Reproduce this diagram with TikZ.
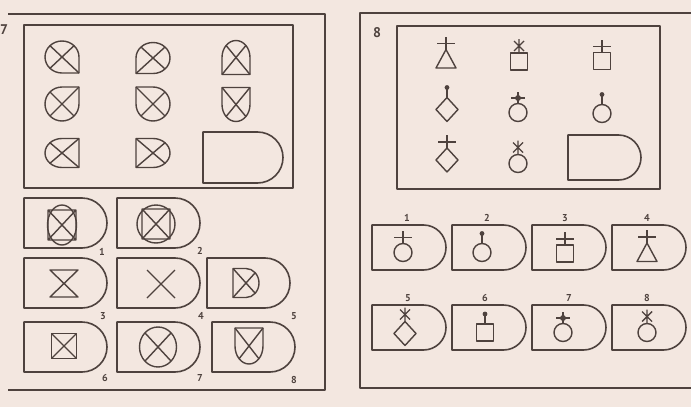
\documentclass[tikz,border=0pt]{standalone}
\usepackage{fontspec}
\setsansfont{PT Sans}
\definecolor{paper}{RGB}{243,231,224}
\definecolor{ink}{RGB}{78,66,62}
\tikzset{
  frame/.style={draw=ink, line width=1.6pt, line join=round},
  glyph/.style={draw=ink, line width=1.4pt, line join=round},
  num/.style={text=ink, font=\sffamily\bfseries\fontsize{10}{10}\selectfont, inner sep=0pt},
}
% quarter symbol: x, y, rx, ry, TR, TL, BL, BR (1 = round quarter, 0 = square corner)
\newcommand{\quartersym}[8]{%
  \ifnum#5=1 \def\qsA{arc[start angle=0,end angle=90,radius=1]}\def\qcA{0.7071}\else\def\qsA{-- (1,1) -- (0,1)}\def\qcA{1}\fi
  \ifnum#6=1 \def\qsB{arc[start angle=90,end angle=180,radius=1]}\def\qcB{0.7071}\else\def\qsB{-- (-1,1) -- (-1,0)}\def\qcB{1}\fi
  \ifnum#7=1 \def\qsC{arc[start angle=180,end angle=270,radius=1]}\def\qcC{0.7071}\else\def\qsC{-- (-1,-1) -- (0,-1)}\def\qcC{1}\fi
  \ifnum#8=1 \def\qsD{arc[start angle=270,end angle=360,radius=1]}\def\qcD{0.7071}\else\def\qsD{-- (1,-1) -- (1,0)}\def\qcD{1}\fi
  \begin{scope}[shift={(#1,-#2)}, xscale=#3, yscale=#4]
    \draw[glyph] (1,0) \qsA \qsB \qsC \qsD -- cycle;
    \draw[glyph] (\qcA,\qcA) -- (-\qcC,-\qcC);
    \draw[glyph] (-\qcB,\qcB) -- (\qcD,-\qcD);
  \end{scope}}
% D-shaped card: left x, top y, width, height
\newcommand{\card}[4]{%
  \pgfmathsetmacro{\cardr}{#4/2}
  \draw[frame] (#1+#3-\cardr,-#2) -- (#1,-#2) -- (#1,-#2-#4) -- (#1+#3-\cardr,-#2-#4)
    arc[start angle=-90,end angle=90,radius=\cardr] -- cycle;}
% bodies, drawn round (0,0)
\newcommand{\bodycirc}{\draw[glyph] (0,0) circle (9); \def\bodytop{9}}
\newcommand{\bodysq}{\draw[glyph] (-8.5,-8.5) rectangle (8.5,8.5); \def\bodytop{8.5}}
\newcommand{\bodytri}{\draw[glyph] (0,9.5) -- (10,-9) -- (-10,-9) -- cycle; \def\bodytop{9.5}}
\newcommand{\bodydia}{\draw[glyph] (0,12) -- (11,0) -- (0,-12) -- (-11,0) -- cycle; \def\bodytop{12}}
% toppers, drawn on \bodytop
\newcommand{\topplus}{\draw[glyph] (0,\bodytop) -- ++(0,13) (-9,\bodytop+6) -- (9,\bodytop+6);}
\newcommand{\topdot}{\draw[glyph] (0,\bodytop) -- ++(0,10); \fill[ink] (0,\bodytop+10) circle (2.4);}
\newcommand{\topxstar}{\draw[glyph] (0,\bodytop) -- ++(0,14) (-5,\bodytop+2) -- (5,\bodytop+12) (-5,\bodytop+12) -- (5,\bodytop+2);}
\newcommand{\topstar}{\draw[glyph] (0,\bodytop) -- ++(0,12) (-7,\bodytop+5.5) -- (7,\bodytop+5.5);
  \fill[ink] (0,\bodytop+10) -- (1.8,\bodytop+7.3) -- (4.5,\bodytop+5.5) -- (1.8,\bodytop+3.7) -- (0,\bodytop+1)
    -- (-1.8,\bodytop+3.7) -- (-4.5,\bodytop+5.5) -- (-1.8,\bodytop+7.3) -- cycle;}
% charm: x, body centre y, topper, body
\newcommand{\charm}[4]{\begin{scope}[shift={(#1,-#2)}]\csname body#4\endcsname\csname top#3\endcsname\end{scope}}

\begin{document}
\begin{tikzpicture}[x=1pt, y=1pt]
    \useasboundingbox (0,0) rectangle (691,-407);
    \fill[paper] (0,0) rectangle (691,-407);
    % Panel 7 (left)
    \node[text=ink, font=\sffamily\bfseries\fontsize{14}{14}\selectfont] (prevnum) at (4,-30) {7};
    \draw[frame] (8,-14) -- (325,-14) -- (325,-390) -- (8,-390);
    \draw[frame] (24,-25) rectangle (293,-188);
    \quartersym{62}{57}{17}{16}{1}{1}{1}{0}
    \quartersym{153}{58}{17}{15.5}{1}{1}{0}{1}
    \quartersym{236}{57.5}{14}{17}{1}{1}{0}{0}
    \quartersym{62}{104}{17}{17}{0}{1}{1}{1}
    \quartersym{153}{104}{17}{17}{1}{0}{1}{1}
    \quartersym{236}{104.5}{14}{17}{0}{0}{1}{1}
    \quartersym{62}{153}{17}{14.5}{0}{1}{1}{0}
    \quartersym{153}{153}{17}{14.5}{1}{0}{0}{1}
    \card{203}{132}{80}{51}
    % answers 1-8
    \card{24}{198}{83}{50}
    \card{117}{198}{83}{50}
    \card{24}{258}{83}{50}
    \card{117}{258}{83}{50}
    \card{207}{258}{83}{50}
    \card{24}{322}{83}{50}
    \card{117}{322}{83}{50}
    \card{212}{322}{83}{50}
    \draw[glyph] (62,-225) ellipse (14.5 and 20);
    \draw[glyph] (48,-210) rectangle (76,-240) (48,-210) -- (76,-240) (48,-240) -- (76,-210);
    \draw[glyph] (156,-224) circle (19);
    \draw[glyph] (142,-209) rectangle (170,-239) (142,-209) -- (170,-239) (142,-239) -- (170,-209);
    \draw[glyph] (50,-270) -- (78,-270) -- (50,-297) -- (78,-297) -- cycle;
    \draw[glyph] (147,-270) -- (175,-298) (147,-298) -- (175,-270);
    \quartersym{246}{283}{13}{14.5}{1}{0}{0}{1}
    \quartersym{64}{346}{12.5}{12.5}{0}{0}{0}{0}
    \quartersym{158}{347}{18.5}{20}{1}{1}{1}{1}
    \quartersym{249}{346}{14}{18}{0}{0}{1}{1}
    \foreach \n/\x/\y in {1/102/252, 2/200/251, 3/103/316, 4/201/316, 5/294/316, 6/105/378, 7/200/378, 8/294/380}
        \node[num] (lopt\n) at (\x,-\y) {\n};
    % Panel 8 (right)
    \draw[frame] (691,-13) -- (360,-13) -- (360,-388) -- (691,-388);
    \node[text=ink, font=\sffamily\bfseries\fontsize{14}{14}\selectfont] (panelnum) at (377,-33) {8};
    \draw[frame] (397,-26) rectangle (660,-189);
    \charm{446}{59}{plus}{tri}
    \charm{519}{61.5}{xstar}{sq}
    \charm{602}{61}{plus}{sq}
    \charm{447}{109.5}{dot}{dia}
    \charm{518}{112.5}{star}{circ}
    \charm{602}{113.5}{dot}{circ}
    \charm{447}{160}{plus}{dia}
    \charm{518}{163.5}{xstar}{circ}
    \card{568}{135}{73}{45}
    % answers 1-8
    \foreach \x in {372, 452, 532, 612} {
        \card{\x}{225}{74}{45}
        \card{\x}{305}{74}{45}
    }
    \charm{403}{252.5}{plus}{circ}
    \charm{482}{252.5}{dot}{circ}
    \charm{565}{253.5}{plus}{sq}
    \charm{647}{252.5}{plus}{tri}
    \charm{405}{333.5}{xstar}{dia}
    \charm{485}{332.5}{dot}{sq}
    \charm{563}{332.5}{star}{circ}
    \charm{647}{332.5}{xstar}{circ}
    \foreach \n/\x/\y in {1/407/218, 2/487/218, 3/565/218, 4/647/218, 5/408/298, 6/485/298, 7/569/298, 8/647/298}
        \node[num] (ropt\n) at (\x,-\y) {\n};
\end{tikzpicture}
\end{document}
